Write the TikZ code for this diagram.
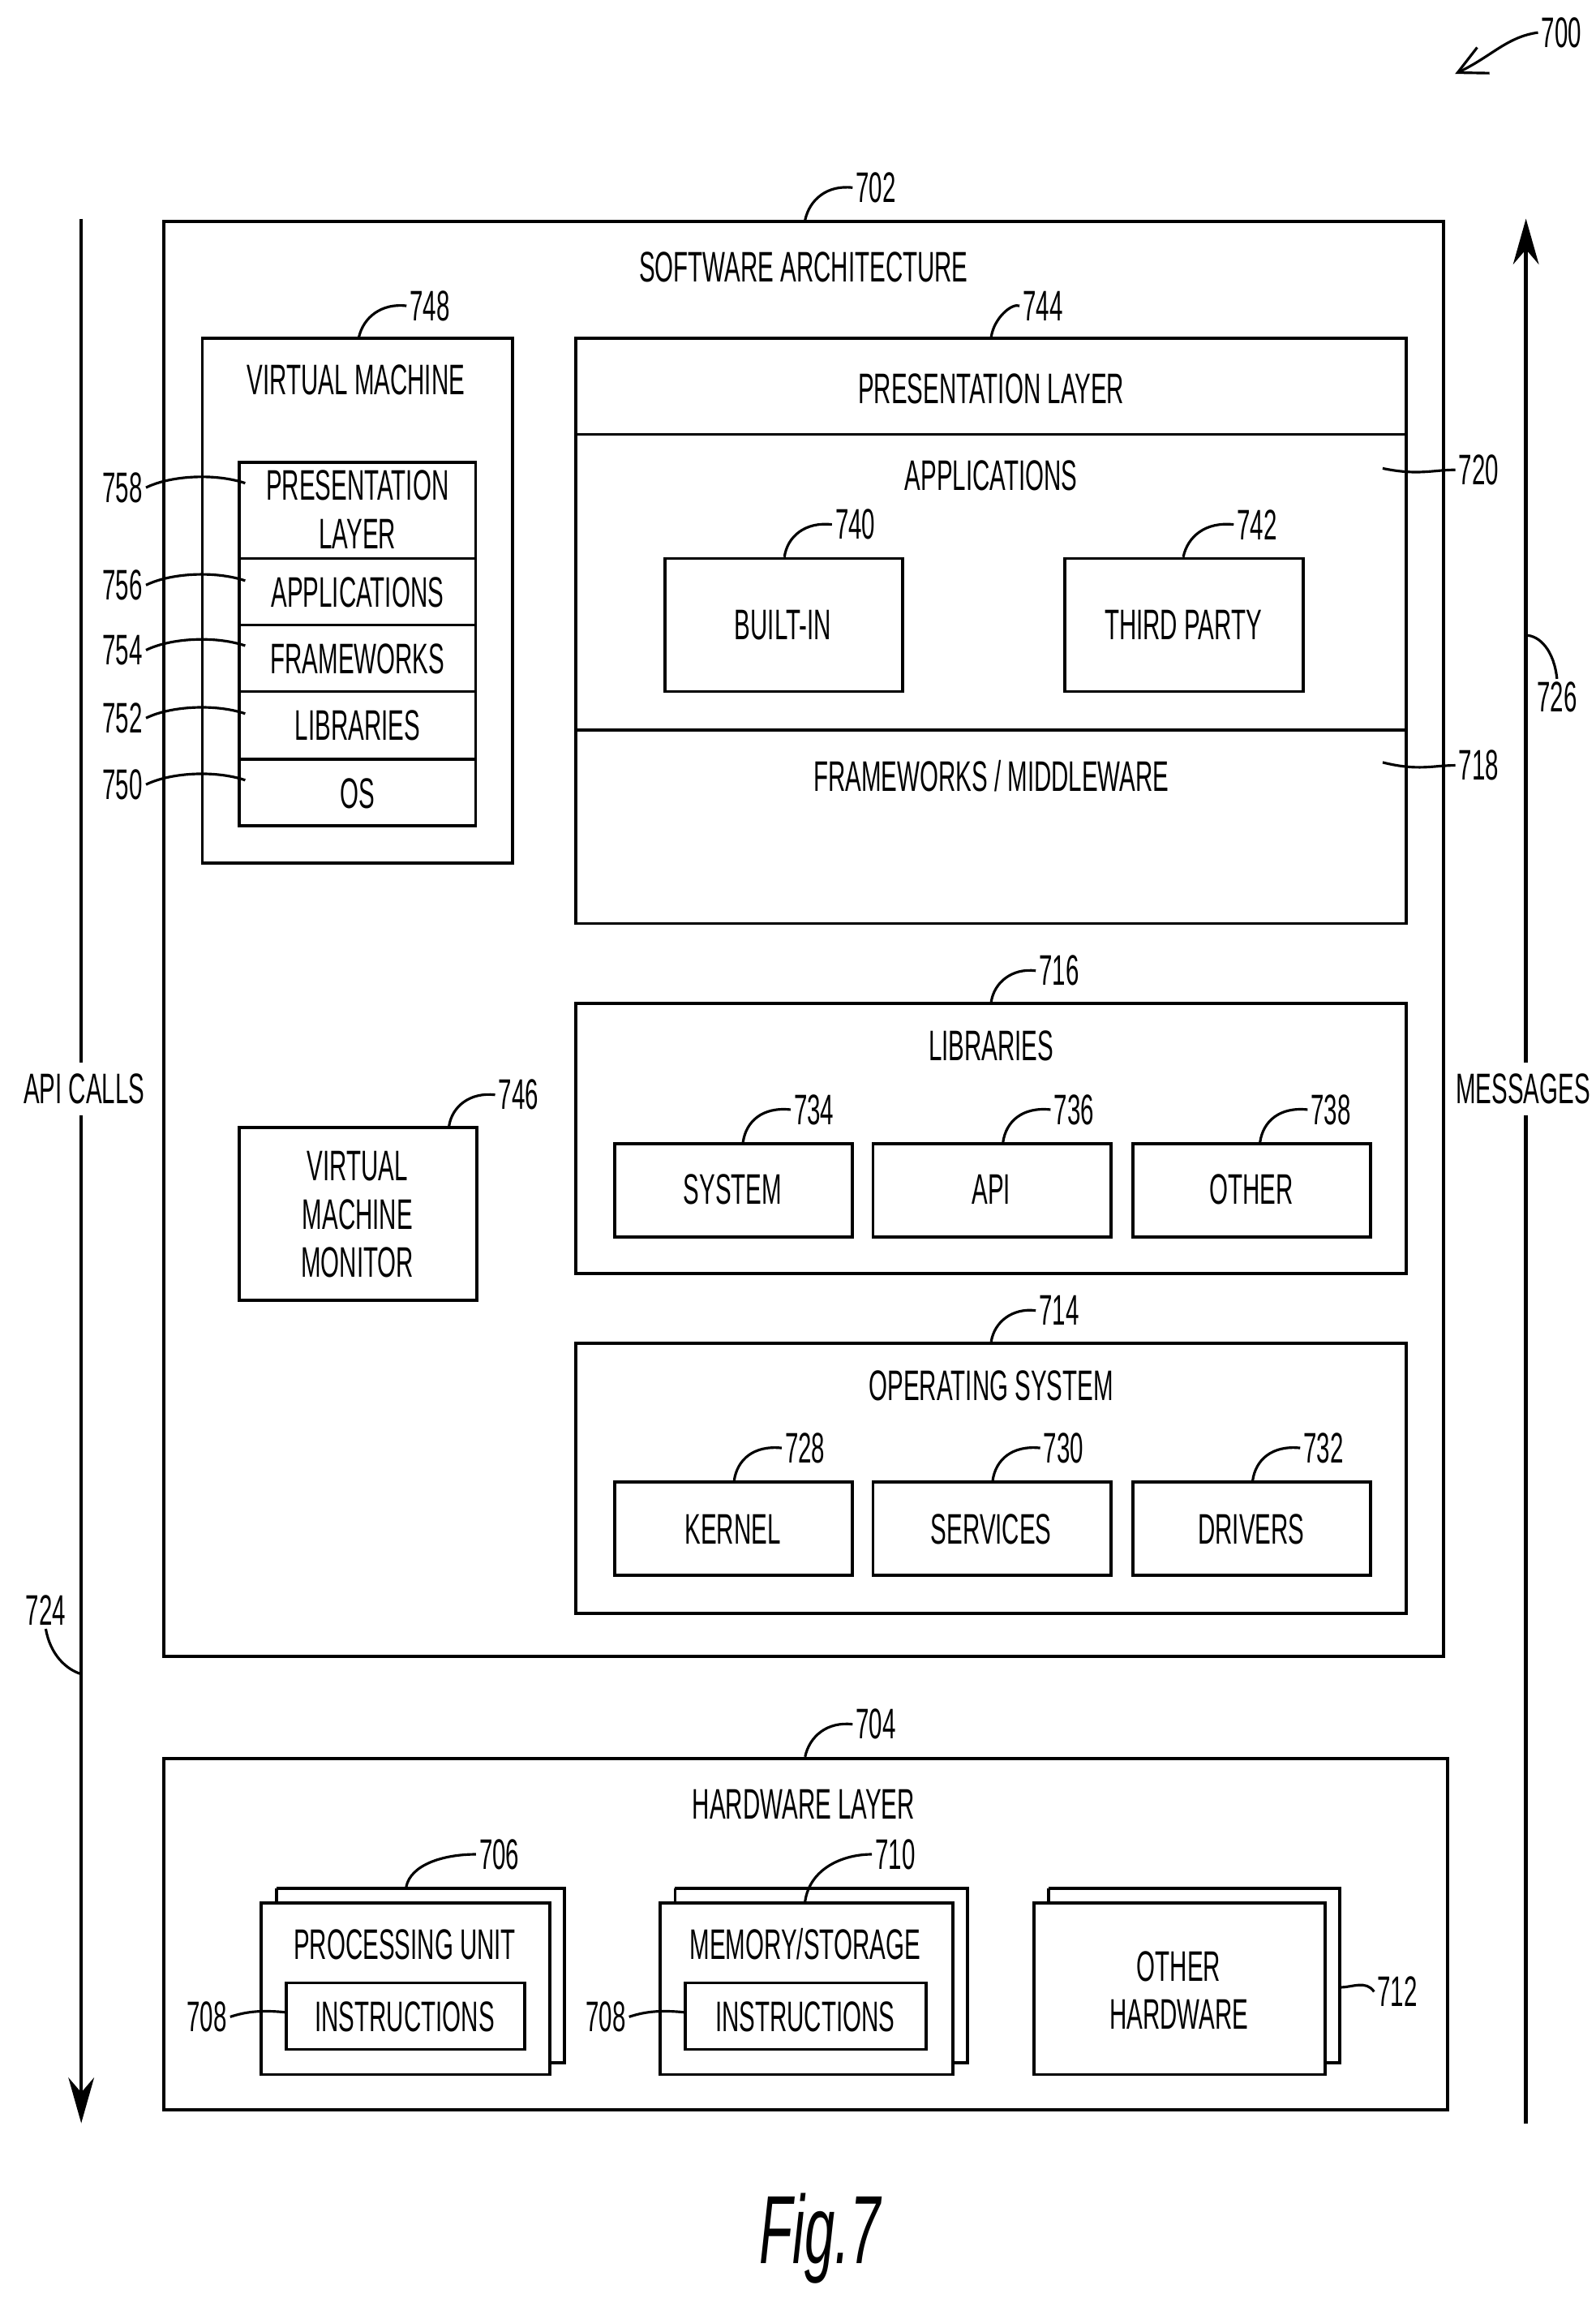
\documentclass[tikz,border=0pt]{standalone}
\usepackage{fontspec}
\setmainfont{Liberation Sans}[FakeStretch=0.56]
\usetikzlibrary{arrows.meta}
\begin{document}
\begin{tikzpicture}[x=0.018215cm,y=-0.018215cm,
  box/.style={draw,line width=1.1pt},
  txt/.style={font=\fontsize{15}{17}\selectfont,align=center,inner sep=1pt},
  num/.style={font=\fontsize{15}{17}\selectfont,inner sep=1pt},
  lead/.style={line width=0.9pt},
  every node/.style={}]
\useasboundingbox (0,0) rectangle (1080,1555.3);
% side arrows
\coordinate (lt) at (55,148); \coordinate (lb) at (55,1437);
\coordinate (rt) at (1033,148); \coordinate (rb) at (1033,1437);
\draw[line width=1.3pt,-{Stealth[length=16pt,width=9pt]}] (lt) -- (lb);
\draw[line width=1.3pt,-{Stealth[length=16pt,width=9pt]}] (rb) -- (rt);
\node[txt,fill=white,inner sep=4pt] (api) at (57,737) {API CALLS};
\node[txt,fill=white,inner sep=4pt] (msg) at (1031,737) {MESSAGES};
\node[num] (n724) at (31,1090) {724}; \coordinate (c724) at (55,1133);
\draw[lead] (n724.south) .. controls (34,1120) and (45,1130) .. (c724);
\node[num] (n726) at (1054,472) {726}; \coordinate (c726) at (1033,430);
\draw[lead] (n726.north) .. controls (1052,440) and (1042,430) .. (c726);
% 700
\node[num] (n700) at (1057,22) {700}; \coordinate (c700) at (985,50);
\draw[lead,-{Straight Barb[length=10pt,width=10pt]}] (n700.west) .. controls (1020,25) and (1010,38) .. (c700);
% software architecture
\draw[box] (111,150) rectangle (977,1121);
\node[txt] (sa) at (544,181) {SOFTWARE ARCHITECTURE};
\node[num] (n702) at (593,127) {702}; \coordinate (c702) at (545,149);
\draw[lead] (n702.west) .. controls (560,125) and (548,135) .. (c702);
% virtual machine
\draw[box] (137,229) rectangle (347,584);
\node[txt] (vm) at (241,257) {VIRTUAL MACHINE};
\node[num] (n748) at (291,207) {748}; \coordinate (c748) at (243,228);
\draw[lead] (n748.west) .. controls (258,205) and (246,215) .. (c748);
\draw[box] (162,313) rectangle (322,559);
\foreach \y in {378,423,468,514} \draw[box] (162,\y) -- (322,\y);
\node[txt] (v758) at (242,345) {PRESENTATION\\LAYER};
\node[txt] (v756) at (242,401) {APPLICATIONS};
\node[txt] (v754) at (242,446) {FRAMEWORKS};
\node[txt] (v752) at (242,491) {LIBRARIES};
\node[txt] (v750) at (242,537) {OS};
\foreach \n/\y in {758/330,756/396,754/440,752/486,750/531}{
  \node[num] (n\n) at (83,\y) {\n};
  \coordinate (c\n) at (166,\y-3);
  \draw[lead] (n\n.east) .. controls (115,\y-8) and (145,\y-10) .. (c\n);
}
% presentation/applications/frameworks
\draw[box] (390,229) rectangle (952,625);
\draw[box] (390,294) -- (952,294);
\draw[box] (390,494) -- (952,494);
\node[txt] (pl) at (671,263) {PRESENTATION LAYER};
\node[txt] (apps) at (671,322) {APPLICATIONS};
\node[txt] (fw) at (671,525) {FRAMEWORKS / MIDDLEWARE};
\node[num] (n744) at (706,207) {744}; \coordinate (c744) at (671,228);
\draw[lead] (n744.west) .. controls (685,205) and (673,215) .. (c744);
\node[num] (n720) at (1001,318) {720}; \coordinate (c720) at (936,317);
\draw[lead] (n720.west) .. controls (970,318) and (960,322) .. (c720);
\node[num] (n718) at (1001,518) {718}; \coordinate (c718) at (936,516);
\draw[lead] (n718.west) .. controls (970,518) and (960,522) .. (c718);
\draw[box] (450,378) rectangle (611,468); \node[txt] (bi) at (530,423) {BUILT-IN};
\draw[box] (721,378) rectangle (882,468); \node[txt] (tp) at (801,423) {THIRD PARTY};
\node[num] (n740) at (579,355) {740}; \coordinate (c740) at (531,377);
\draw[lead] (n740.west) .. controls (545,353) and (533,363) .. (c740);
\node[num] (n742) at (851,355) {742}; \coordinate (c742) at (801,377);
\draw[lead] (n742.west) .. controls (816,353) and (804,363) .. (c742);
% libraries
\draw[box] (390,679) rectangle (952,862);
\node[txt] (lib) at (671,708) {LIBRARIES};
\node[num] (n716) at (717,657) {716}; \coordinate (c716) at (671,678);
\draw[lead] (n716.west) .. controls (685,655) and (673,665) .. (c716);
\draw[box] (416,774) rectangle (577,837); \node[txt] (sys) at (496,805) {SYSTEM};
\draw[box] (591,774) rectangle (752,837); \node[txt] (apib) at (671,805) {API};
\draw[box] (767,774) rectangle (928,837); \node[txt] (oth) at (847,805) {OTHER};
\foreach \n/\x in {734/551,736/727,738/901}{
  \node[num] (n\n) at (\x,751) {\n}; \coordinate (c\n) at (\x-48,773);
  \draw[lead] (n\n.west) .. controls (\x-35,749) and (\x-46,759) .. (c\n);
}
% VMM
\draw[box] (162,763) rectangle (323,880);
\node[txt] (vmm) at (242,822) {VIRTUAL\\MACHINE\\MONITOR};
\node[num] (n746) at (351,741) {746}; \coordinate (c746) at (304,762);
\draw[lead] (n746.west) .. controls (318,739) and (306,749) .. (c746);
% OS
\draw[box] (390,909) rectangle (952,1092);
\node[txt] (os) at (671,938) {OPERATING SYSTEM};
\node[num] (n714) at (717,887) {714}; \coordinate (c714) at (671,908);
\draw[lead] (n714.west) .. controls (685,885) and (673,895) .. (c714);
\draw[box] (416,1003) rectangle (577,1066); \node[txt] (ker) at (496,1035) {KERNEL};
\draw[box] (591,1003) rectangle (752,1066); \node[txt] (srv) at (671,1035) {SERVICES};
\draw[box] (767,1003) rectangle (928,1066); \node[txt] (drv) at (847,1035) {DRIVERS};
\foreach \n/\x in {728/545,730/720,732/896}{
  \node[num] (n\n) at (\x,980) {\n}; \coordinate (c\n) at (\x-48,1002);
  \draw[lead] (n\n.west) .. controls (\x-35,978) and (\x-46,988) .. (c\n);
}
% hardware
\draw[box] (111,1190) rectangle (980,1428);
\node[txt] (hw) at (544,1221) {HARDWARE LAYER};
\node[num] (n704) at (593,1167) {704}; \coordinate (c704) at (545,1189);
\draw[lead] (n704.west) .. controls (560,1165) and (548,1175) .. (c704);
% processing unit
\draw[box] (187,1278) -- (382,1278) -- (382,1396) -- (372,1396);
\draw[box] (187,1278) -- (187,1288);
\draw[box] (177,1288) rectangle (372,1404);
\node[txt] (pu) at (274,1316) {PROCESSING UNIT};
\draw[box] (194,1342) rectangle (355,1387); \node[txt] (ins1) at (274,1365) {INSTRUCTIONS};
\node[num] (n706) at (338,1255) {706}; \coordinate (c706) at (275,1277);
\draw[lead] (n706.west) .. controls (300,1255) and (278,1262) .. (c706);
\node[num] (n708a) at (140,1365) {708}; \coordinate (c708a) at (194,1362);
\draw[lead] (n708a.east) .. controls (165,1362) and (175,1360) .. (c708a);
% memory
\draw[box] (457,1278) -- (655,1278) -- (655,1396) -- (645,1396);
\draw[box] (457,1278) -- (457,1288);
\draw[box] (447,1288) rectangle (645,1404);
\node[txt] (mem) at (545,1316) {MEMORY/STORAGE};
\draw[box] (464,1342) rectangle (627,1387); \node[txt] (ins2) at (545,1365) {INSTRUCTIONS};
\node[num] (n710) at (606,1255) {710}; \coordinate (c710) at (545,1287);
\draw[lead] (n710.west) .. controls (570,1255) and (548,1265) .. (c710);
\node[num] (n708b) at (410,1365) {708}; \coordinate (c708b) at (464,1362);
\draw[lead] (n708b.east) .. controls (435,1362) and (445,1360) .. (c708b);
% other hardware
\draw[box] (710,1278) -- (907,1278) -- (907,1396) -- (897,1396);
\draw[box] (710,1278) -- (710,1288);
\draw[box] (700,1288) rectangle (897,1404);
\node[txt] (ohw) at (798,1347) {OTHER\\HARDWARE};
\node[num] (n712) at (946,1348) {712}; \coordinate (c712) at (908,1345);
\draw[lead] (n712.west) .. controls (925,1340) and (915,1345) .. (c712);
% caption
\node[font=\fontsize{34}{38}\selectfont\itshape] (fig) at (555,1515) {Fig.7};
\end{tikzpicture}
\end{document}
